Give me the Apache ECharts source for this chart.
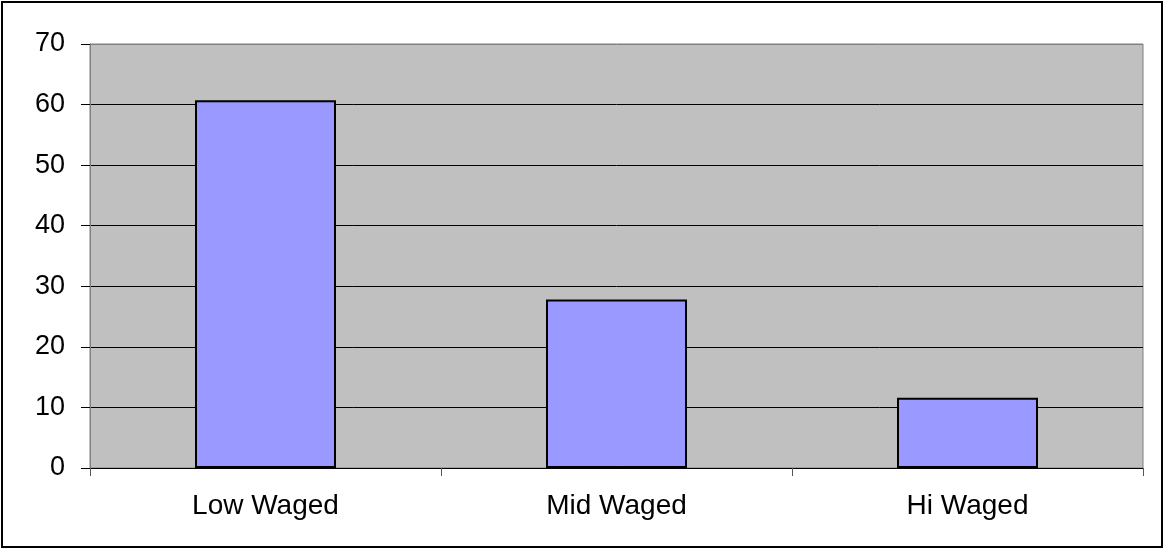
<!DOCTYPE html>
<html>
<head>
<meta charset="utf-8">
<script src="https://cdn.jsdelivr.net/npm/echarts@6/dist/echarts.min.js"></script>
<style>
  html, body { margin: 0; padding: 0; background: #fff; }
  #chart { width: 1165px; height: 550px; }
</style>
</head>
<body>
<div id="chart"></div>
<script>
// Share of workers by wage band (%)
const categories = ['Low Waged', 'Mid Waged', 'Hi Waged'];
const shares = [60.7, 27.8, 11.6];
const yTicks = { min: 0, max: 70, interval: 10 };

const chart = echarts.init(document.getElementById('chart'), null, { renderer: 'canvas' });
const font = '"Liberation Sans", Arial, sans-serif';

chart.setOption({
  animation: false,
  backgroundColor: '#ffffff',
  graphic: [{
    type: 'rect',
    shape: { x: 2, y: 2, width: 1160, height: 545 },
    style: { fill: 'none', stroke: '#000', lineWidth: 2 },
    silent: true,
    z: 100
  }],
  grid: {
    left: 90, top: 44, right: 22, bottom: 82,
    show: true,
    backgroundColor: '#c0c0c0',
    borderColor: '#808080',
    borderWidth: 1
  },
  xAxis: {
    type: 'category',
    data: categories,
    axisLine: { show: true, lineStyle: { color: '#000', width: 1 } },
    axisTick: { show: true, alignWithLabel: false, length: 8, lineStyle: { color: '#555' } },
    axisLabel: { color: '#000', fontSize: 28, fontFamily: font, margin: 24 },
    splitLine: { show: false }
  },
  yAxis: {
    type: 'value',
    min: yTicks.min, max: yTicks.max, interval: yTicks.interval,
    axisLine: { show: true, lineStyle: { color: '#808080', width: 1 } },
    axisTick: { show: true, length: 9, lineStyle: { color: '#000' } },
    axisLabel: { color: '#000', fontSize: 27, fontFamily: font, margin: 25 },
    splitLine: {
      show: true,
      lineStyle: {
        color: ['#000', '#000', '#000', '#000', '#000', '#000', '#000', '#808080'],
        width: 1
      }
    }
  },
  series: [{
    type: 'bar',
    data: shares,
    barWidth: 141,
    itemStyle: { color: '#9999ff', borderColor: '#000', borderWidth: 2 }
  }]
});
</script>
</body>
</html>
